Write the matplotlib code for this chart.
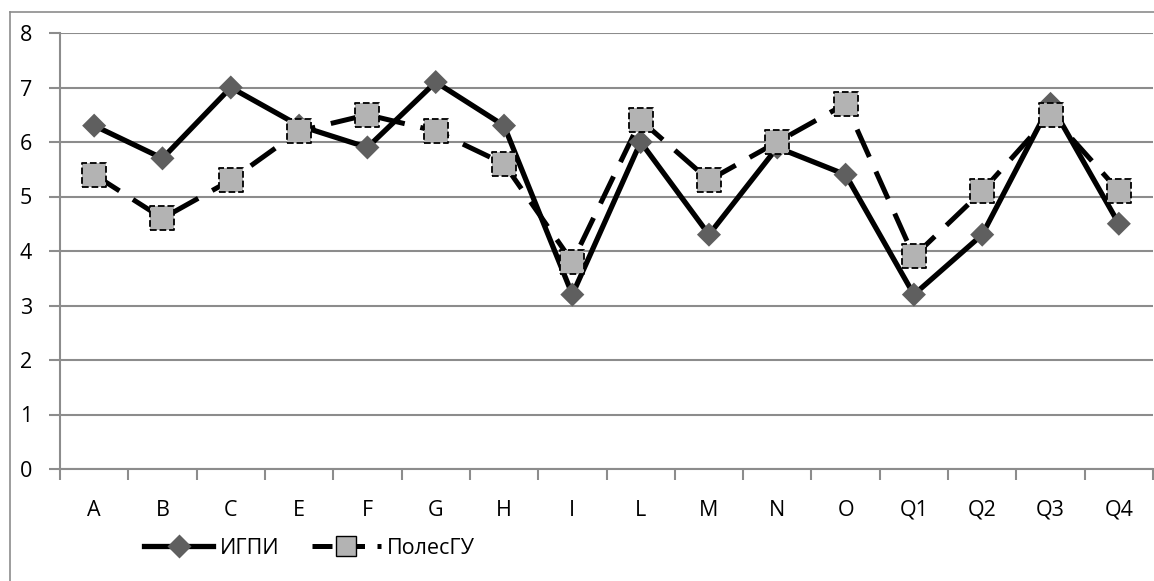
import matplotlib; matplotlib.use("Agg")
import matplotlib.pyplot as plt
from matplotlib.lines import Line2D

plt.rcParams['font.family'] = ['Open Sans', 'DejaVu Sans']

categories = ["A", "B", "C", "E", "F", "G", "H", "I", "L", "M", "N", "O", "Q1", "Q2", "Q3", "Q4"]
igpi = [6.3, 5.7, 7.0, 6.3, 5.9, 7.1, 6.3, 3.2, 6.0, 4.3, 5.9, 5.4, 3.2, 4.3, 6.7, 4.5]
polesgu = [5.4, 4.6, 5.3, 6.2, 6.5, 6.2, 5.6, 3.8, 6.4, 5.3, 6.0, 6.7, 3.9, 5.1, 6.5, 5.1]
yticks = list(range(0, 9))

W, H = 1154, 581
fig = plt.figure(figsize=(W / 100, H / 100), dpi=100)
ax = fig.add_axes([60 / W, 1 - 469 / H, 1093 / W, (469 - 33) / H])

x = list(range(len(categories)))
grid_c = "#8c8c8c"

ax.plot(x, igpi, color="black", lw=3.8, solid_joinstyle="miter", zorder=3)
ax.plot(x, polesgu, color="black", lw=3.6, ls=(0, (6, 3.2)), zorder=4)
ax.scatter(x, igpi, marker="D", s=150, color="#5f5f5f", edgecolors="none", zorder=5)
ax.scatter(x, polesgu, marker="s", s=300, color="#b3b3b3", edgecolors="black",
           linewidths=1.3, linestyle="--", zorder=6)

ax.set_xlim(-0.5, len(categories) - 0.5)
ax.set_ylim(0, 8)
ax.set_yticks(yticks)
ax.set_xticks(x)
ax.set_xticklabels(categories)
ax.set_xticks([i - 0.5 for i in range(len(categories) + 1)], minor=True)
ax.tick_params(axis="x", which="major", length=0, pad=22, labelsize=15.5)
ax.tick_params(axis="x", which="minor", length=8, width=1.5, color=grid_c, direction="out")
ax.tick_params(axis="y", length=8, width=1.5, color=grid_c, pad=21, labelsize=15.5)
for lab in ax.get_yticklabels():
    lab.set_horizontalalignment("left")
ax.grid(axis="y", color=grid_c, lw=1.5)
ax.set_axisbelow(True)
for s in ["top", "right"]:
    ax.spines[s].set_visible(False)
for s in ["left", "bottom"]:
    ax.spines[s].set_color(grid_c)
    ax.spines[s].set_linewidth(1.5)

# outer chart frame (only left and top edges visible)
fig.add_artist(Line2D([10 / W, 10 / W], [0, 1 - 12 / H], color="#8c8c8c", lw=1.2))
fig.add_artist(Line2D([10 / W, 1], [1 - 12 / H, 1 - 12 / H], color="#8c8c8c", lw=1.2))

h1 = Line2D([], [], color="black", lw=3.8, marker="D", markersize=12,
            markerfacecolor="#5f5f5f", markeredgecolor="none")
h2 = Line2D([], [], color="black", lw=3.6, ls=(0, (4, 2.5)), marker="s", markersize=14,
            markerfacecolor="#b3b3b3", markeredgecolor="black", markeredgewidth=1.0)
fig.legend([h1, h2], ["ИГПИ", "ПолесГУ"], loc="center left",
           bbox_to_anchor=(125 / W, 1 - 548 / H), ncol=2, frameon=False,
           fontsize=15.5, handlelength=3.2, handletextpad=0.3, columnspacing=1.5)

fig.savefig("out.png", dpi=100)
